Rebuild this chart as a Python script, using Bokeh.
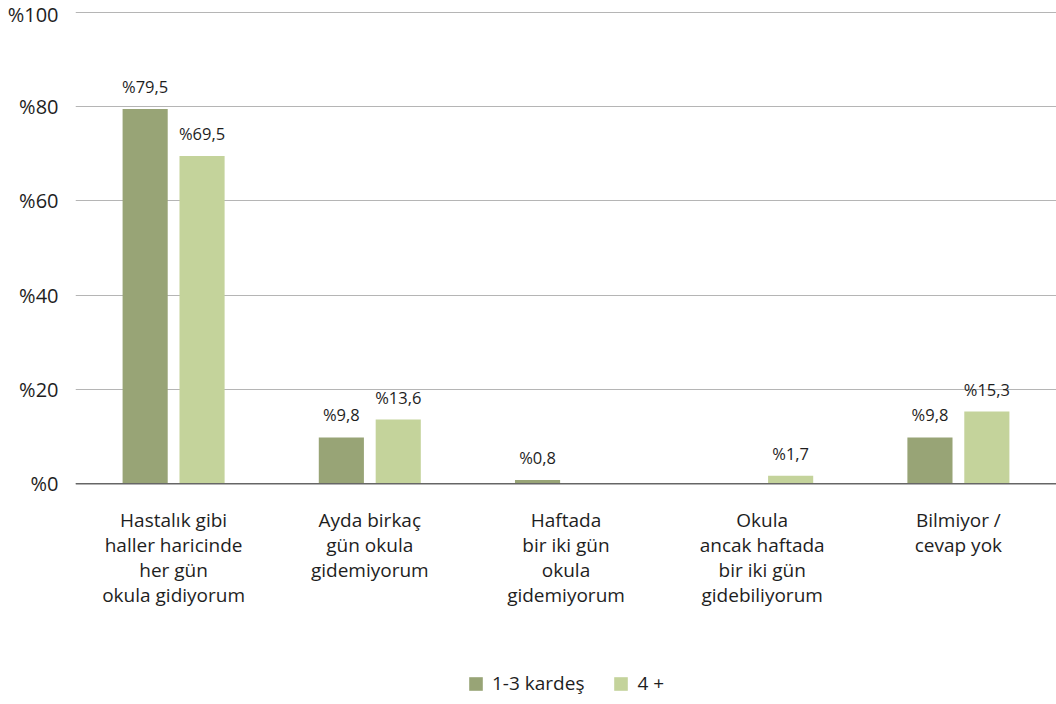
from bokeh.plotting import figure
from bokeh.models import (ColumnDataSource, FixedTicker, CustomJSTickFormatter, Span,
                          Legend, LegendItem, FactorRange)
from bokeh.transform import dodge
from bokeh.core.properties import value
from bokeh.embed import file_html
from bokeh.resources import INLINE

categories = [
    "Hastalık gibi\nhaller haricinde\nher gün\nokula gidiyorum",
    "Ayda birkaç\ngün okula\ngidemiyorum",
    "Haftada\nbir iki gün\nokula\ngidemiyorum",
    "Okula\nancak haftada\nbir iki gün\ngidebiliyorum",
    "Bilmiyor /\ncevap yok",
]
series_names = ["1-3 kardeş", "4 +"]
values_13 = [79.5, 9.8, 0.8, None, 9.8]
values_4p = [69.5, 13.6, None, 1.7, 15.3]
y_ticks = [0, 20, 40, 60, 80, 100]
colors = ["#98a476", "#c4d39b"]

FONT = "Open Sans"
TXT = "#1e1e1e"

# frame extends below zero so category labels and legend can be drawn inside it
p = figure(x_range=FactorRange(*categories, range_padding=0), y_range=(-46.0, 102.5),
           width=1056, height=700, output_backend="svg", toolbar_location=None,
           min_border_left=75, min_border_right=0, min_border_top=0, min_border_bottom=0)
p.outline_line_color = None
p.background_fill_color = "white"

offsets = [-0.145, 0.145]
renderers = []
for vals, off, col in zip([values_13, values_4p], offsets, colors):
    tops = [float("nan") if v is None else v for v in vals]
    src = ColumnDataSource(dict(cat=categories, top=tops))
    r = p.vbar(x=dodge("cat", off, range=p.x_range), top="top", width=0.23, source=src,
               fill_color=col, line_color=None)
    renderers.append(r)
    lc = [c for c, v in zip(categories, vals) if v]
    lv = [v for v in vals if v]
    lt = [("%" + f"{v:.1f}").replace(".", ",") for v in lv]
    lsrc = ColumnDataSource(dict(cat=lc, y=lv, t=lt))
    p.text(x=dodge("cat", off, range=p.x_range), y="y", text="t", source=lsrc,
           text_align="center", text_baseline="bottom", y_offset=-11,
           text_font=value(FONT), text_font_size="16.5px", text_color=TXT)

p.add_layout(Span(location=0, dimension="width", line_color="#666666", line_width=1.5))

# category labels under the zero line
csrc = ColumnDataSource(dict(cat=categories, y=[0] * len(categories)))
p.text(x="cat", y="y", text="cat", source=csrc, text_align="center", text_baseline="top",
       y_offset=23, text_line_height=0.97,
       text_font=value(FONT), text_font_size="19px", text_color=TXT)

p.xaxis.visible = False
p.xgrid.grid_line_color = None
p.ygrid.grid_line_color = "#b5b5b5"
p.ygrid.grid_line_width = 1
p.yaxis.ticker = FixedTicker(ticks=y_ticks)
p.yaxis.formatter = CustomJSTickFormatter(code="return '%' + tick;")
ax = p.yaxis[0]
ax.axis_line_color = None
ax.major_tick_line_color = None
ax.minor_tick_line_color = None
ax.major_label_text_font = FONT
ax.major_label_text_font_size = "20px"
ax.major_label_text_color = TXT
ax.major_label_standoff = 11

legend = Legend(items=[LegendItem(label=n, renderers=[r]) for n, r in zip(series_names, renderers)],
                orientation="horizontal", location=(392, 4),
                label_text_font=FONT, label_text_font_size="19px", label_text_color=TXT,
                glyph_width=17, glyph_height=17, label_height=20, spacing=28, label_standoff=8,
                border_line_alpha=0, background_fill_alpha=0, margin=0, padding=0)
p.add_layout(legend, "center")

open("out.html", "w").write(file_html(p, INLINE))
